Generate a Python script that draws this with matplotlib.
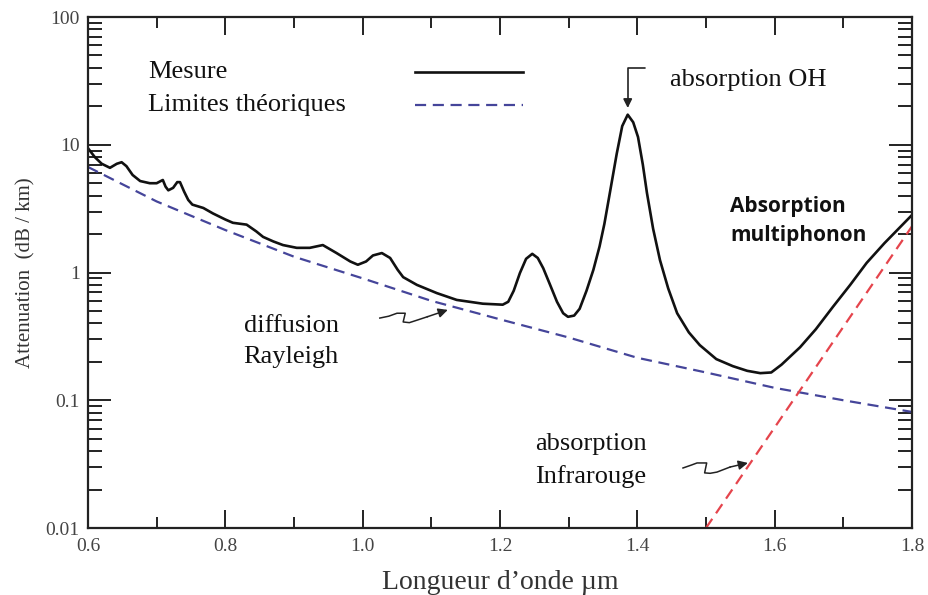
import numpy as np
from matplotlib import pyplot as plt
from matplotlib.ticker import LogLocator, FixedLocator, FixedFormatter, NullFormatter, MultipleLocator

plt.rcParams['font.family'] = ['Liberation Serif', 'DejaVu Serif']

mes_x = [0.600, 0.610, 0.620, 0.632, 0.642, 0.649, 0.656, 0.665, 0.676, 0.690,
         0.700, 0.706, 0.709, 0.713, 0.717, 0.724, 0.730, 0.734, 0.740, 0.746,
         0.752, 0.768, 0.782, 0.800, 0.811, 0.831, 0.845, 0.855, 0.870, 0.884,
         0.904, 0.923, 0.942, 0.962, 0.982, 0.993, 1.005, 1.015, 1.028, 1.040,
         1.051, 1.059, 1.079, 1.108, 1.137, 1.175, 1.204, 1.212, 1.220, 1.229, 1.238,
         1.247, 1.255, 1.263, 1.273, 1.283, 1.292, 1.299, 1.308, 1.316, 1.326,
         1.336, 1.345, 1.352, 1.360, 1.370, 1.378, 1.386, 1.394, 1.401, 1.408,
         1.414, 1.423, 1.433, 1.445, 1.458, 1.475, 1.491, 1.515, 1.539, 1.560,
         1.579, 1.595, 1.610, 1.637, 1.660, 1.685, 1.710, 1.734, 1.760, 1.800]
mes_y = [9.4, 8.0, 7.1, 6.6, 7.1, 7.3, 6.8, 5.8, 5.2, 5.0,
         5.0, 5.2, 5.3, 4.7, 4.4, 4.6, 5.1, 5.1, 4.3, 3.7,
         3.4, 3.2, 2.9, 2.6, 2.45, 2.37, 2.1, 1.9, 1.75, 1.64,
         1.56, 1.56, 1.64, 1.42, 1.22, 1.15, 1.22, 1.36, 1.42, 1.30,
         1.05, 0.92, 0.80, 0.69, 0.61, 0.57, 0.56, 0.59, 0.72, 0.99, 1.28,
         1.40, 1.30, 1.08, 0.80, 0.59, 0.48, 0.45, 0.46, 0.52, 0.72,
         1.05, 1.6, 2.4, 4.2, 8.5, 14.0, 17.2, 15.0, 11.5, 7.0,
         4.2, 2.2, 1.25, 0.75, 0.48, 0.34, 0.27, 0.21, 0.185, 0.17,
         0.163, 0.165, 0.19, 0.26, 0.36, 0.54, 0.80, 1.19, 1.70, 2.82]

# theoretical limits
ray_x = [0.6, 0.7, 0.8, 0.9, 1.0, 1.1, 1.2, 1.3, 1.4, 1.5, 1.6, 1.7, 1.8]
ray_y = [6.7, 3.6, 2.15, 1.33, 0.90, 0.60, 0.43, 0.31, 0.215, 0.165, 0.125, 0.10, 0.081]
ir_x = [1.5, 1.8]
ir_y = [0.01, 2.3]

x_ticks = [0.6, 0.8, 1.0, 1.2, 1.4, 1.6, 1.8]
x_labels = ['0.6', '0.8', '1.0', '1.2', '1.4', '1.6', '1.8']
y_ticks = [0.01, 0.1, 1, 10, 100]
y_labels = ['0.01', '0.1', '1', '10', '100']
legend_labels = ['Mesure', 'Limites théoriques']

# annotation squiggles
sq1_x = [1.025, 1.038, 1.050, 1.062, 1.059, 1.068, 1.080, 1.094]
sq1_y = [0.44, 0.455, 0.48, 0.48, 0.41, 0.405, 0.425, 0.45]
sq2_x = [1.4665, 1.478, 1.487, 1.501, 1.498, 1.506, 1.516, 1.535]
sq2_y = [0.0295, 0.031, 0.0323, 0.0323, 0.027, 0.0268, 0.0274, 0.030]

fig = plt.figure(figsize=(9.29, 5.95), dpi=100)
ax = fig.add_axes([0.0947, 0.1126, 0.887, 0.8588])

l1, = ax.plot(mes_x, mes_y, color='#111111', lw=1.9)
l2, = ax.plot(ray_x, ray_y, color='#45459a', lw=1.6, dashes=(5, 3))
ax.plot(ir_x, ir_y, color='#e5444c', lw=1.6, dashes=(5, 3))

ax.set_yscale('log')
ax.set_xlim(0.6, 1.8)
ax.set_ylim(0.01, 100)

ax.xaxis.set_major_locator(FixedLocator(x_ticks))
ax.xaxis.set_major_formatter(FixedFormatter(x_labels))
ax.xaxis.set_minor_locator(MultipleLocator(0.1))
ax.yaxis.set_major_locator(FixedLocator(y_ticks))
ax.yaxis.set_major_formatter(FixedFormatter(y_labels))
ax.yaxis.set_minor_locator(LogLocator(base=10, subs=np.arange(2, 10)))
ax.yaxis.set_minor_formatter(NullFormatter())

ax.tick_params(which='both', direction='in', top=True, right=True, width=1.4,
               color='#222222', labelsize=14, labelcolor='#444444')
ax.tick_params(axis='x', which='major', length=13, pad=7)
ax.tick_params(axis='x', which='minor', length=8)
ax.tick_params(axis='y', which='major', length=16.5, pad=6)
ax.tick_params(axis='y', which='minor', length=10)
for s in ax.spines.values():
    s.set_linewidth(1.6)
    s.set_color('#222222')

ax.set_xlabel('Longueur d’onde µm', fontsize=20, color='#333333', labelpad=11)
ax.set_ylabel('Attenuation  (dB / km)', fontsize=15, color='#333333', labelpad=7)

# legend: labels on the left, keys on the right
ax.text(0.0728, 0.8920, legend_labels[0], transform=ax.transAxes, fontsize=19,
        ha='left', va='center', color='#111111')
ax.text(0.0728, 0.8280, legend_labels[1], transform=ax.transAxes, fontsize=19,
        ha='left', va='center', color='#111111')
ax.legend([l1, l2], [' ', ' '], loc='upper left', bbox_to_anchor=(0.3968, 0.9095),
          frameon=False, fontsize=19, handlelength=4.1, handletextpad=0,
          labelspacing=0.33, borderpad=0, borderaxespad=0)

# annotations
ax.annotate('', xy=(1.386, 19.4), xytext=(1.411, 39.9),
            arrowprops=dict(arrowstyle='-|>', color='#222222', lw=1.2,
                            connectionstyle='angle,angleA=0,angleB=90,rad=0',
                            shrinkA=0, shrinkB=0, mutation_scale=13))
ax.text(1.448, 32, 'absorption OH', fontsize=19, va='center', ha='left', color='#111111')

ax.plot(sq1_x, sq1_y, color='#222222', lw=1.1)
ax.annotate('', xy=(1.124, 0.51), xytext=(sq1_x[-1], sq1_y[-1]),
            arrowprops=dict(arrowstyle='-|>', color='#222222', lw=1.1,
                            shrinkA=0, shrinkB=0, mutation_scale=14))
ax.text(0.896, 0.29, 'diffusion\nRayleigh', fontsize=19, ha='center', va='center',
        linespacing=1.55, color='#111111')

ax.plot(sq2_x, sq2_y, color='#222222', lw=1.1)
ax.annotate('', xy=(1.561, 0.0323), xytext=(sq2_x[-1], sq2_y[-1]),
            arrowprops=dict(arrowstyle='-|>', color='#222222', lw=1.1,
                            shrinkA=0, shrinkB=0, mutation_scale=14))
ax.text(1.332, 0.0335, 'absorption\nInfrarouge', fontsize=19, ha='center', va='center',
        linespacing=1.55, color='#111111')

ax.text(1.535, 2.53, 'Absorption\nmultiphonon', fontsize=15, ha='left', va='center',
        linespacing=1.55, family=['Open Sans', 'DejaVu Sans'], weight='bold', color='#111111')

fig.savefig('out.png', dpi=100)
